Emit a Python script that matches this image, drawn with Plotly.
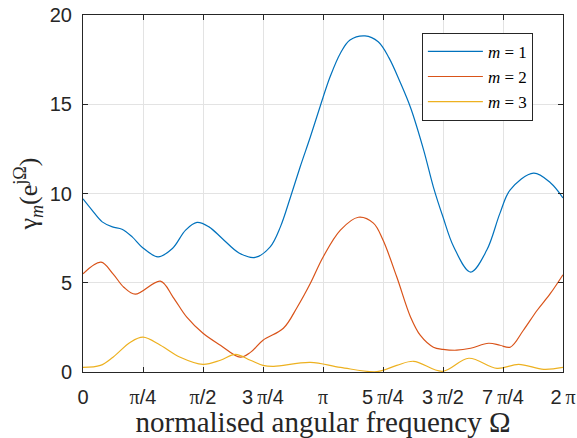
import numpy as np
import plotly.graph_objects as go

# x positions in units of pi/4
k1 = [0, 0.15, 0.32, 0.49, 0.65, 0.82, 0.99, 1.25, 1.49, 1.71, 1.9, 2.1, 2.32, 2.6, 2.87, 3.12, 3.29, 3.46, 3.62, 3.79, 3.96, 4.12, 4.29, 4.45, 4.7, 4.92, 5.1, 5.29, 5.46, 5.68, 5.84, 6.0, 6.18, 6.46, 6.73, 6.95, 7.12, 7.51, 7.79, 8.0]
m1 = [9.7, 9.07, 8.41, 8.13, 8.0, 7.57, 6.98, 6.45, 6.92, 7.95, 8.38, 8.13, 7.48, 6.67, 6.42, 7.01, 8.13, 9.82, 11.5, 13.18, 14.96, 16.55, 17.86, 18.6, 18.83, 18.5, 17.6, 16.2, 14.8, 12.4, 10.36, 8.68, 7.0, 5.6, 6.83, 8.9, 10.2, 11.14, 10.6, 9.75]

k2 = [0, 0.3, 0.5, 0.68, 0.87, 1.29, 1.5, 1.73, 2.0, 2.29, 2.62, 2.79, 3.0, 3.34, 3.57, 3.79, 4.0, 4.29, 4.59, 4.84, 5.0, 5.23, 5.46, 5.62, 5.84, 6.0, 6.23, 6.46, 6.76, 6.95, 7.12, 7.34, 7.57, 7.79, 8.0]
m2 = [5.5, 6.15, 5.5, 4.75, 4.36, 5.09, 4.2, 3.07, 2.17, 1.5, 0.83, 1.1, 1.78, 2.45, 3.63, 4.97, 6.43, 7.95, 8.67, 8.34, 7.39, 5.32, 3.07, 2.06, 1.39, 1.27, 1.22, 1.33, 1.61, 1.5, 1.39, 2.34, 3.46, 4.4, 5.45]

k3 = [0, 0.29, 0.5, 0.79, 1.0, 1.29, 1.62, 2.0, 2.29, 2.54, 2.79, 3.0, 3.18, 3.79, 4.29, 4.9, 5.23, 5.51, 5.99, 6.43, 6.9, 7.26, 7.68, 8.0]
m3 = [0.26, 0.37, 0.83, 1.67, 1.95, 1.5, 0.83, 0.43, 0.66, 0.99, 0.66, 0.37, 0.32, 0.54, 0.26, 0.02, 0.37, 0.6, 0.04, 0.77, 0.2, 0.43, 0.15, 0.26]

PI = '<span style="font-family:Liberation Serif">π</span>'
SP = "\u2009"
tick_labels = ["0", PI + "/4", PI + "/2", "3" + SP + PI + "/4", PI, "5" + SP + PI + "/4",
               "3" + SP + PI + "/2", "7" + SP + PI + "/4", "2" + SP + PI]
y_ticks = [0, 5, 10, 15, 20]

q = np.pi / 4
fig = go.Figure()
for kk, vals, name, col in [(k1, m1, "<i>m</i> = 1", "#0072BD"),
                            (k2, m2, "<i>m</i> = 2", "#D95319"),
                            (k3, m3, "<i>m</i> = 3", "#EDB120")]:
    fig.add_trace(go.Scatter(x=[v * q for v in kk], y=vals, mode="lines", name=name,
                             line=dict(color=col, width=1.2, shape="spline", smoothing=1.0)))

axis_common = dict(showgrid=True, gridcolor="#e3e3e3", gridwidth=1, zeroline=False,
                   showline=True, linecolor="#262626", linewidth=1, mirror="ticks",
                   ticks="inside", ticklen=5, tickcolor="#262626", automargin=False,
                   ticklabeloverflow="allow",
                   tickfont=dict(family="Liberation Sans, Arial", size=20, color="#262626"))

fig.update_xaxes(range=[0, 2 * np.pi], tickvals=[i * q for i in range(9)], ticktext=tick_labels,
                 ticklabelstandoff=7,
                 title=dict(text="normalised angular frequency Ω",
                            font=dict(family="Liberation Serif, Times New Roman", size=29, color="#262626"),
                            standoff=2),
                 **axis_common)
fig.update_yaxes(range=[0, 20], tickvals=y_ticks, ticklabelstandoff=6,
                 title=dict(text="γ<sub><i>m</i></sub>(e<sup>jΩ</sup>)",
                            font=dict(family="Liberation Serif, Times New Roman", size=26, color="#262626"),
                            standoff=4),
                 **axis_common)

fig.update_layout(width=577, height=438, plot_bgcolor="white", paper_bgcolor="white",
                  margin=dict(l=83, r=14, t=15, b=66),
                  legend=dict(x=0.706, y=0.95, xanchor="left", yanchor="top",
                              bgcolor="white", bordercolor="#262626", borderwidth=1,
                              font=dict(family="Liberation Serif, Times New Roman", size=17, color="black"),
                              tracegroupgap=0, itemwidth=55))

fig.write_html("out.html", config={"displayModeBar": False},
               post_script="document.body.style.margin='0';")
